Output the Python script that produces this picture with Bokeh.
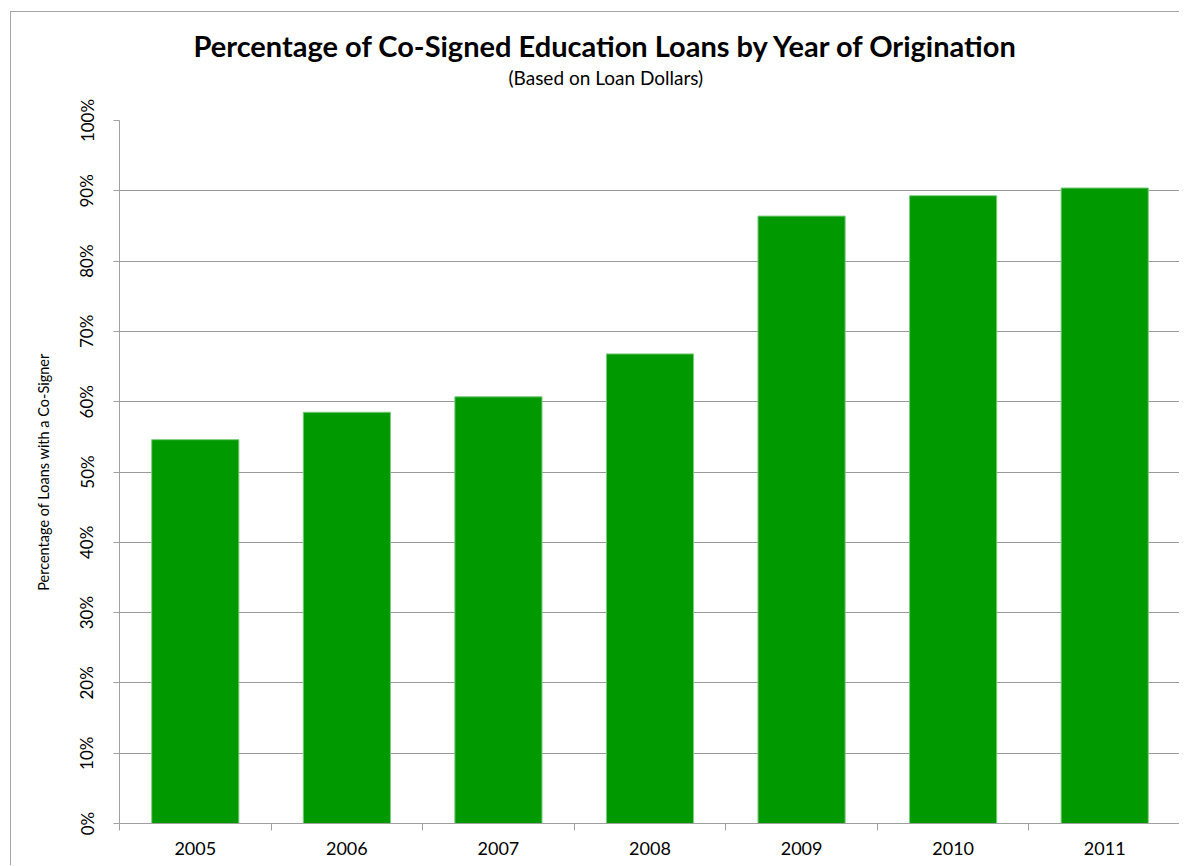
from bokeh.plotting import figure
from bokeh.models import ColumnDataSource, FixedTicker, Title, Range1d
from bokeh.embed import file_html
from bokeh.resources import INLINE

# ---- data ----
years = ["2005", "2006", "2007", "2008", "2009", "2010", "2011"]
cosigned_pct = [54.6, 58.5, 60.7, 66.8, 86.4, 89.3, 90.4]
y_ticks = [0, 10, 20, 30, 40, 50, 60, 70, 80, 90, 100]
y_tick_labels = [f"{t}%" for t in y_ticks]
title_text = "Percentage of Co-Signed Education Loans by Year of Origination"
subtitle_text = "(Based on Loan Dollars)"

FONT = "Lato"

centers = [i + 0.5 for i in range(len(years))]
bounds = [i for i in range(len(years) + 1)]
src = ColumnDataSource(dict(x=centers, top=cosigned_pct, year=years))

p = figure(width=1169, height=854, output_backend="svg", toolbar_location=None,
           title=None, x_range=Range1d(0, len(years)), y_range=Range1d(0, 100),
           min_border_left=108, min_border_right=0, min_border_top=108, min_border_bottom=43)
p.styles = {"border-left": "1px solid #A6A6A6", "border-top": "1px solid #A6A6A6",
            "margin-left": "10px", "margin-top": "11px"}
p.outline_line_color = None
p.background_fill_color = "white"
p.border_fill_color = "white"

p.vbar(x="x", top="top", width=0.575, bottom=0, source=src,
       fill_color="#009900", line_color="#7ccc7c", line_width=1)

# y axis
yax = p.yaxis[0]
yax.ticker = FixedTicker(ticks=y_ticks)
yax.major_label_overrides = {t: l for t, l in zip(y_ticks, y_tick_labels)}
yax.major_label_orientation = "vertical"
yax.major_label_text_font = FONT
yax.major_label_text_font_size = "17px"
yax.major_label_text_color = "black"
yax.major_label_standoff = 16
yax.axis_line_color = "#A0A0A0"
yax.major_tick_line_color = "#A0A0A0"
yax.major_tick_out = 6
yax.major_tick_in = 0
yax.minor_tick_line_color = None
yax.axis_label = "Percentage of Loans with a Co-Signer"
yax.axis_label_text_font = FONT
yax.axis_label_text_font_size = "14.5px"
yax.axis_label_text_font_style = "normal"
yax.axis_label_text_color = "black"
yax.axis_label_standoff = 22

# x axis
xax = p.xaxis[0]
xax.ticker = FixedTicker(ticks=centers, minor_ticks=bounds)
xax.major_label_overrides = {c: y for c, y in zip(centers, years)}
xax.major_label_text_font = FONT
xax.major_label_text_font_size = "18px"
xax.major_label_text_color = "black"
xax.major_label_standoff = 11
xax.major_tick_line_color = None
xax.minor_tick_line_color = "#A0A0A0"
xax.minor_tick_out = 7
xax.minor_tick_in = 0
xax.axis_line_color = "#A0A0A0"

p.xgrid.grid_line_color = None
p.ygrid.ticker = FixedTicker(ticks=y_ticks)
p.ygrid.grid_line_color = "#999999"
p.ygrid.grid_line_width = 1

# titles
sub = Title(text=subtitle_text, align="left", offset=389,
            text_font=FONT, text_font_size="19px", text_font_style="normal",
            text_color="black", standoff=63)
p.add_layout(sub, "above")
main = Title(text=title_text, align="left", offset=74,
             text_font=FONT, text_font_size="29px", text_font_style="bold",
             text_color="black", standoff=-61)
p.add_layout(main, "above")

open("out.html", "w").write(file_html(p, INLINE))
